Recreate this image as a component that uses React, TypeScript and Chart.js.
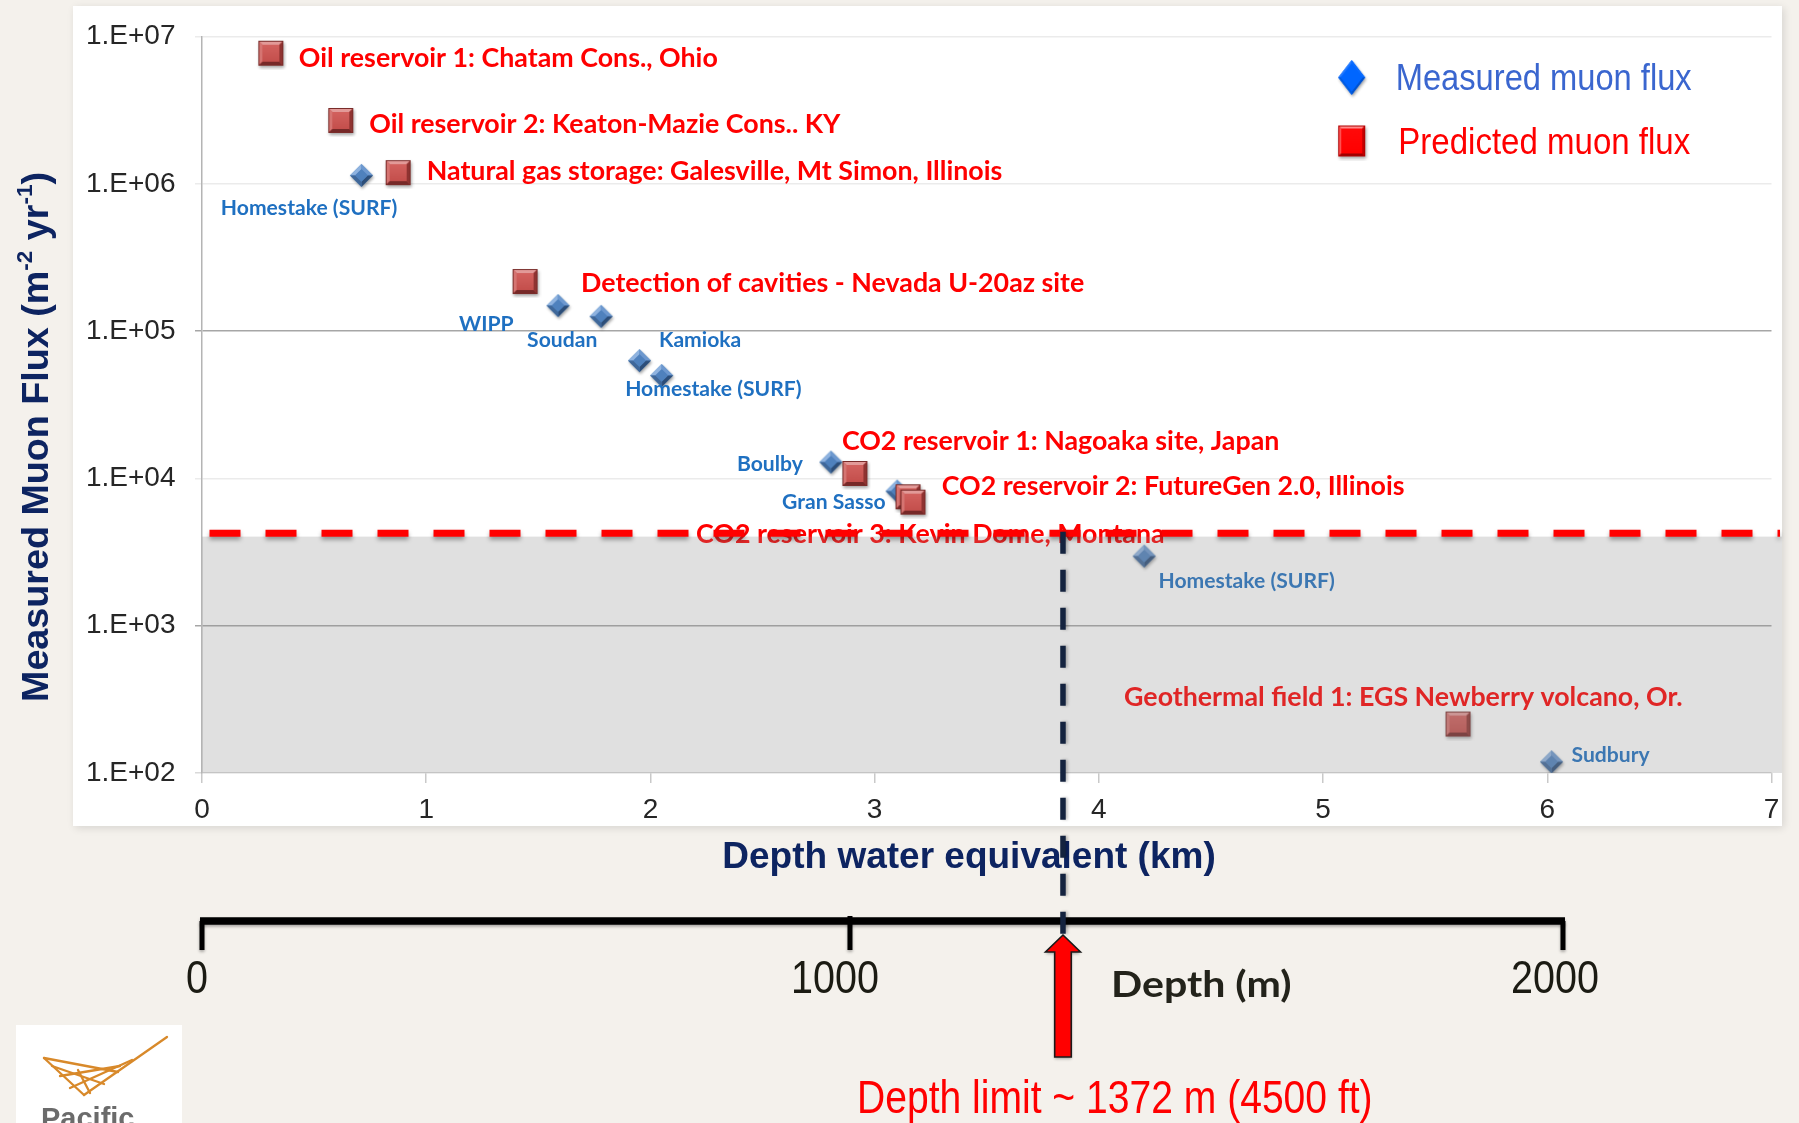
import React, { useEffect, useRef } from 'react';
import { Chart, registerables } from 'chart.js';

Chart.register(...registerables);

// ---------------- data ----------------
const seriesLabels = ['Measured muon flux', 'Predicted muon flux'];

const measuredSites = [
  'Homestake (SURF)', 'WIPP', 'Soudan', 'Kamioka', 'Homestake (SURF)',
  'Boulby', 'Gran Sasso', 'Homestake (SURF)', 'Sudbury',
];
const measuredDepthKmwe = [0.711, 1.588, 1.78, 1.951, 2.05, 2.805, 3.1, 4.202, 6.019];
const measuredFlux = [1.14e6, 1.49e5, 1.26e5, 6.3e4, 5.0e4, 1.29e4, 8.2e3, 2.97e3, 119];

const predictedSites = [
  'Oil reservoir 1: Chatam Cons., Ohio',
  'Oil reservoir 2: Keaton-Mazie Cons.. KY',
  'Natural gas storage: Galesville, Mt Simon, Illinois',
  'Detection of cavities - Nevada U-20az site',
  'CO2 reservoir 1: Nagoaka site, Japan',
  'CO2 reservoir 2: FutureGen 2.0, Illinois',
  'CO2 reservoir 3: Kevin Dome, Montana',
  'Geothermal field 1: EGS Newberry volcano, Or.',
];
const predictedDepthKmwe = [0.307, 0.619, 0.875, 1.441, 2.912, 3.149, 3.171, 5.602];
const predictedFlux = [7.7e6, 2.69e6, 1.19e6, 2.17e5, 1.08e4, 7.5e3, 6.9e3, 215];

const yTickValues = [1e2, 1e3, 1e4, 1e5, 1e6, 1e7];
const yTickLabels = ['1.E+02', '1.E+03', '1.E+04', '1.E+05', '1.E+06', '1.E+07'];
const xMin = 0;
const xMax = 7;

const xAxisTitle = 'Depth water equivalent (km)';
const yAxisTitleParts = ['Measured Muon Flux (m', '-2', ' yr', '-1', ')'];

const fluxThreshold = 4250;
const depthLimitKmwe = 3.84;
const depthScaleLabels = ['0', '1000', '2000'];
const depthScaleKmwe = [0, 2.89, 6.07];
const depthScaleTitle = 'Depth (m)';
const depthLimitText = 'Depth limit ~ 1372 m (4500 ft)';
const logoText = 'Pacific';

// ---------------- layout (label offsets from their point, px) ----------------
const measuredLabelOffsets = [
  [-140.6, 32.5], [-99, 17.8], [-74, 23.2], [19.5, -20.8], [-36.5, 13],
  [-94, 2], [-115, 10.5], [14.3, 24.5], [20, -7.7],
];
const predictedLabelOffsets = [
  [28, 4.3], [28.5, 3], [28.5, -2.3], [56, 1.5], [-13, -32.3], [33.7, -11], [-217, 31.5], [-334, -27.3],
];
const depthScaleLabelDx = [-5, -15, -8];

const W = 1799;
const H = 1123;
const PANEL = { x: 73, y: 6, r: 1782, b: 826 };

const SANS = '"Liberation Sans", Arial, sans-serif';
const HUM = 'Lato, "Open Sans", sans-serif';

type Style = { family: string; weight: number; size: number; color: string; sx?: number };

function txt(ctx: CanvasRenderingContext2D, s: string, x: number, capY: number, st: Style, align: CanvasTextAlign = 'left') {
  ctx.save();
  ctx.font = `${st.weight} ${st.size}px ${st.family}`;
  ctx.fillStyle = st.color;
  ctx.textAlign = align;
  ctx.textBaseline = 'alphabetic';
  ctx.translate(x, capY + st.size * 0.358);
  ctx.scale(st.sx ?? 1, 1);
  ctx.fillText(s, 0, 0);
  ctx.restore();
}

function poly(g: CanvasRenderingContext2D, pts: number[][], col: string) {
  g.beginPath();
  g.moveTo(pts[0][0], pts[0][1]);
  for (let i = 1; i < pts.length; i++) g.lineTo(pts[i][0], pts[i][1]);
  g.closePath();
  g.fillStyle = col;
  g.fill();
}

function bevelSquare(w: number, h: number, c: any, b: number) {
  const pad = 4;
  const cv = document.createElement('canvas');
  cv.width = w + pad * 2;
  cv.height = h + pad * 2;
  const g = cv.getContext('2d')!;
  const x0 = pad, y0 = pad, x1 = pad + w, y1 = pad + h;
  g.save();
  g.shadowColor = 'rgba(0,0,0,0.35)';
  g.shadowBlur = 3;
  g.shadowOffsetX = 1;
  g.shadowOffsetY = 2;
  g.fillStyle = c.face;
  g.fillRect(x0, y0, w, h);
  g.restore();
  poly(g, [[x0, y0], [x1, y0], [x1 - b, y0 + b], [x0 + b, y0 + b]], c.top);
  poly(g, [[x0, y0], [x0 + b, y0 + b], [x0 + b, y1 - b], [x0, y1]], c.left);
  poly(g, [[x1, y0], [x1, y1], [x1 - b, y1 - b], [x1 - b, y0 + b]], c.right);
  poly(g, [[x0, y1], [x0 + b, y1 - b], [x1 - b, y1 - b], [x1, y1]], c.bottom);
  const grd = g.createLinearGradient(0, y0 + b, 0, y1 - b);
  grd.addColorStop(0, c.face2);
  grd.addColorStop(1, c.face);
  g.fillStyle = grd;
  g.fillRect(x0 + b, y0 + b, w - 2 * b, h - 2 * b);
  g.strokeStyle = c.edge;
  g.lineWidth = 1;
  g.strokeRect(x0 + 0.5, y0 + 0.5, w - 1, h - 1);
  return cv;
}

function bevelDiamond(w: number, h: number, c: any, k: number) {
  const pad = 4;
  const cv = document.createElement('canvas');
  cv.width = w + pad * 2;
  cv.height = h + pad * 2;
  const g = cv.getContext('2d')!;
  const cx = pad + w / 2, cy = pad + h / 2;
  const T = [cx, pad], R = [pad + w, cy], B = [cx, pad + h], L = [pad, cy];
  const iT = [cx, cy - (h / 2) * k], iR = [cx + (w / 2) * k, cy], iB = [cx, cy + (h / 2) * k], iL = [cx - (w / 2) * k, cy];
  g.save();
  g.shadowColor = 'rgba(0,0,0,0.35)';
  g.shadowBlur = 3;
  g.shadowOffsetX = 1;
  g.shadowOffsetY = 2;
  poly(g, [T, R, B, L], c.face);
  g.restore();
  poly(g, [T, iT, iL, L], c.tl);
  poly(g, [T, R, iR, iT], c.tr);
  poly(g, [R, B, iB, iR], c.br);
  poly(g, [B, L, iL, iB], c.bl);
  poly(g, [iT, iR, iB, iL], c.face);
  return cv;
}

function buildChart(canvas: HTMLCanvasElement) {
  const diamondImg = bevelDiamond(23, 23, { face: '#4f81bd', tl: '#8fb3e0', tr: '#6d98cf', br: '#2c4d78', bl: '#3f6799' }, 0.55);
  const squareImg = bevelSquare(25, 25, { face: '#c44f4c', face2: '#d2615e', top: '#e29a98', left: '#d57471', right: '#8f3331', bottom: '#762928', edge: '#7a2c2a' }, 4);
  const legendDiamond = bevelDiamond(27, 35, { face: '#0066ff', tl: '#1f78ff', tr: '#0a6cff', br: '#0052cc', bl: '#005be0' }, 0.8);
  const legendSquare = bevelSquare(27, 31, { face: '#ff0000', face2: '#ff0a0a', top: '#ff8a8a', left: '#ff5050', right: '#c40000', bottom: '#9e0000', edge: '#b00000' }, 3);

  const measuredData = measuredDepthKmwe.map((x, i) => ({ x, y: measuredFlux[i] }));
  const predictedData = predictedDepthKmwe.map((x, i) => ({ x, y: predictedFlux[i] }));

  const redLabel: Style = { family: HUM, weight: 700, size: 26, color: '#ff0000', sx: 1.03 };
  const blueLabel: Style = { family: HUM, weight: 700, size: 20.5, color: '#1f70c1', sx: 1.03 };
  const titleStyle: Style = { family: SANS, weight: 700, size: 37, color: '#0d2461' };

  const deco = {
    id: 'deco',
    beforeDraw(chart: any) {
      const ctx = chart.ctx as CanvasRenderingContext2D;
      ctx.save();
      ctx.fillStyle = '#f4f1ec';
      ctx.fillRect(0, 0, W, H);
      ctx.shadowColor = 'rgba(0,0,0,0.12)';
      ctx.shadowBlur = 8;
      ctx.shadowOffsetX = 2;
      ctx.shadowOffsetY = 2;
      ctx.fillStyle = '#ffffff';
      ctx.fillRect(PANEL.x, PANEL.y, PANEL.r - PANEL.x, PANEL.b - PANEL.y);
      ctx.restore();
    },
    afterDatasetsDraw(chart: any) {
      const ctx = chart.ctx as CanvasRenderingContext2D;
      const ca = chart.chartArea;
      const xs = chart.scales.x;
      const ys = chart.scales.y;

      // point labels
      const pm = chart.getDatasetMeta(0);
      pm.data.forEach((el: any, j: number) => {
        const [dx, dy] = predictedLabelOffsets[j];
        txt(ctx, predictedSites[j], el.x + dx, el.y + dy, redLabel);
      });
      const mm = chart.getDatasetMeta(1);
      mm.data.forEach((el: any, j: number) => {
        const [dx, dy] = measuredLabelOffsets[j];
        txt(ctx, measuredSites[j], el.x + dx, el.y + dy, blueLabel);
      });

      // shaded zone below the threshold
      const yThr = ys.getPixelForValue(fluxThreshold);
      ctx.save();
      ctx.fillStyle = 'rgba(140,140,140,0.27)';
      ctx.fillRect(ca.left, yThr + 3.5, PANEL.r - ca.left, ca.bottom - yThr - 3.5);
      ctx.restore();

      // red dashed threshold line
      ctx.save();
      ctx.setLineDash([31, 25]);
      ctx.lineWidth = 7;
      ctx.strokeStyle = '#ff0000';
      ctx.shadowColor = 'rgba(0,0,0,0.35)';
      ctx.shadowBlur = 4;
      ctx.shadowOffsetY = 3;
      ctx.beginPath();
      ctx.moveTo(ca.left + 7.5, yThr);
      ctx.lineTo(PANEL.r - 2, yThr);
      ctx.stroke();
      ctx.restore();

      // axis titles
      txt(ctx, xAxisTitle, 969, 855, titleStyle, 'center');
      ctx.save();
      ctx.translate(34, 437);
      ctx.rotate(-Math.PI / 2);
      const mainF = `700 37.7px ${SANS}`;
      const supF = `700 22.5px ${SANS}`;
      const widths = yAxisTitleParts.map((p, i) => {
        ctx.font = i % 2 === 1 ? supF : mainF;
        return ctx.measureText(p).width;
      });
      let cx = -widths.reduce((a, b) => a + b, 0) / 2;
      ctx.fillStyle = '#0d2461';
      ctx.textBaseline = 'alphabetic';
      yAxisTitleParts.forEach((p, i) => {
        const sup = i % 2 === 1;
        ctx.font = sup ? supF : mainF;
        ctx.fillText(p, cx, sup ? 13.5 - 15.5 : 13.5);
        cx += widths[i];
      });
      ctx.restore();

      // depth (m) scale bar
      const barY = 921;
      const bx = depthScaleKmwe.map((v) => xs.getPixelForValue(v));
      ctx.save();
      ctx.shadowColor = 'rgba(0,0,0,0.3)';
      ctx.shadowBlur = 3;
      ctx.shadowOffsetY = 2;
      ctx.strokeStyle = '#000000';
      ctx.lineWidth = 7.5;
      ctx.beginPath();
      ctx.moveTo(bx[0] - 2, barY);
      ctx.lineTo(bx[bx.length - 1] + 2, barY);
      ctx.stroke();
      ctx.lineWidth = 5;
      bx.forEach((x, i) => {
        ctx.beginPath();
        ctx.moveTo(x, i === 0 || i === bx.length - 1 ? barY : barY - 5);
        ctx.lineTo(x, barY + 29);
        ctx.stroke();
      });
      ctx.restore();
      const scaleLab: Style = { family: SANS, weight: 400, size: 46.5, color: '#1b1b13', sx: 0.85 };
      bx.forEach((x, i) => txt(ctx, depthScaleLabels[i], x + depthScaleLabelDx[i], 976.5, scaleLab, 'center'));
      txt(ctx, depthScaleTitle, 1111, 983.7, { family: HUM, weight: 700, size: 37, color: '#23231b', sx: 1.11 });

      // vertical dashed depth-limit line
      const xl = xs.getPixelForValue(depthLimitKmwe);
      ctx.save();
      ctx.setLineDash([22, 16]);
      ctx.lineWidth = 5.5;
      ctx.strokeStyle = '#14233f';
      ctx.shadowColor = 'rgba(0,0,0,0.25)';
      ctx.shadowBlur = 3;
      ctx.shadowOffsetX = 2;
      ctx.beginPath();
      ctx.moveTo(xl, yThr - 1.5);
      ctx.lineTo(xl, 934);
      ctx.stroke();
      ctx.restore();

      // red arrow
      ctx.save();
      ctx.shadowColor = 'rgba(0,0,0,0.3)';
      ctx.shadowBlur = 3;
      ctx.shadowOffsetY = 2;
      ctx.beginPath();
      ctx.moveTo(xl, 935);
      ctx.lineTo(xl + 17.5, 952);
      ctx.lineTo(xl + 8.3, 952);
      ctx.lineTo(xl + 8.3, 1057);
      ctx.lineTo(xl - 8.3, 1057);
      ctx.lineTo(xl - 8.3, 952);
      ctx.lineTo(xl - 17.5, 952);
      ctx.closePath();
      ctx.fillStyle = '#ff0000';
      ctx.fill();
      ctx.shadowColor = 'transparent';
      ctx.lineWidth = 1.6;
      ctx.strokeStyle = '#1a1a1a';
      ctx.stroke();
      ctx.restore();
      txt(ctx, depthLimitText, 857, 1096.7, { family: SANS, weight: 400, size: 46.5, color: '#ff0000', sx: 0.84 });

      // legend
      const lg = [
        { img: legendDiamond, cy: 77.5, tx: 1395.7, ty: 77, color: '#3a66cf', sx: 0.9 },
        { img: legendSquare, cy: 141, tx: 1398.3, ty: 141, color: '#ff0000', sx: 0.91 },
      ];
      lg.forEach((it, i) => {
        ctx.drawImage(it.img, 1351.7 - it.img.width / 2, it.cy - it.img.height / 2);
        txt(ctx, seriesLabels[i], it.tx, it.ty, { family: SANS, weight: 400, size: 36.3, color: it.color, sx: it.sx });
      });

      // logo
      ctx.save();
      ctx.fillStyle = '#ffffff';
      ctx.fillRect(16, 1025, 166, 100);
      ctx.strokeStyle = '#d8892a';
      ctx.lineWidth = 2.3;
      ctx.lineCap = 'round';
      const seg = (a: number, b: number, c: number, d: number) => {
        ctx.beginPath();
        ctx.moveTo(a, b);
        ctx.lineTo(c, d);
        ctx.stroke();
      };
      seg(167, 1037, 84, 1095);
      seg(44, 1058, 84, 1095);
      seg(44, 1058, 118, 1072);
      seg(52, 1066, 104, 1084);
      seg(60, 1076, 120, 1066);
      seg(70, 1088, 132, 1060);
      seg(78, 1070, 90, 1093);
      ctx.fillStyle = '#6b6b6b';
      ctx.font = `700 29px ${SANS}`;
      ctx.textBaseline = 'alphabetic';
      ctx.fillText(logoText, 41, 1128);
      ctx.restore();
    },
  };

  return new Chart(canvas, {
    type: 'scatter',
    data: {
      datasets: [
        {
          label: seriesLabels[1],
          data: predictedData,
          pointStyle: squareImg as any,
          pointRadius: 13,
          pointHoverRadius: 13,
          order: 0,
        },
        {
          label: seriesLabels[0],
          data: measuredData,
          pointStyle: diamondImg as any,
          pointRadius: 12,
          pointHoverRadius: 12,
          order: 1,
        },
      ],
    },
    options: {
      responsive: false,
      animation: false,
      devicePixelRatio: 1,
      events: [],
      layout: { padding: { top: 36.5, right: 27.5, bottom: 290, left: 0 } },
      plugins: { legend: { display: false }, tooltip: { enabled: false } },
      scales: {
        x: {
          type: 'linear',
          min: xMin,
          max: xMax,
          ticks: { stepSize: 1, padding: 10, color: '#262626', font: { family: SANS, size: 28 } },
          grid: { drawOnChartArea: false, drawTicks: true, tickLength: 10, color: '#c9c9c9', lineWidth: 1.5 },
          border: { display: false },
          afterFit: (s: any) => {
            s.height = 60;
          },
        },
        y: {
          type: 'logarithmic',
          min: yTickValues[0],
          max: yTickValues[yTickValues.length - 1],
          afterBuildTicks: (s: any) => {
            s.ticks = yTickValues.map((v) => ({ value: v }));
          },
          ticks: {
            padding: 19.5,
            color: '#262626',
            font: { family: SANS, size: 28 },
            callback: (v: any) => {
              const k = yTickValues.indexOf(Number(v));
              return k >= 0 ? yTickLabels[k] : '';
            },
          },
          grid: {
            tickLength: 7,
            lineWidth: 1.5,
            color: (c: any) => {
              const v = c.tick ? c.tick.value : 0;
              if (v === 1e5 || v === 1e3) return '#a6a6a6';
              if (v === 1e2) return '#d9d9d9';
              return '#ebebeb';
            },
          },
          border: { color: '#b4b4b4', width: 1.5 },
          afterFit: (s: any) => {
            s.width = 202;
          },
        },
      },
    },
    plugins: [deco],
  } as any);
}

export default function App() {
  const ref = useRef<HTMLCanvasElement>(null);
  useEffect(() => {
    if (!ref.current) return;
    const chart = buildChart(ref.current);
    let alive = true;
    if ((document as any).fonts && (document as any).fonts.load) {
      Promise.all([
        document.fonts.load(`700 26px Lato`),
        document.fonts.load(`400 28px "Liberation Sans"`),
        document.fonts.load(`700 37px "Liberation Sans"`),
      ])
        .then(() => {
          if (alive) chart.draw();
        })
        .catch(() => {});
    }
    return () => {
      alive = false;
      chart.destroy();
    };
  }, []);
  return (
    <div style={{ position: 'fixed', left: 0, top: 0, width: W, height: H, overflow: 'hidden' }}>
      <canvas ref={ref} width={W} height={H} style={{ display: 'block', width: W, height: H }} />
    </div>
  );
}
